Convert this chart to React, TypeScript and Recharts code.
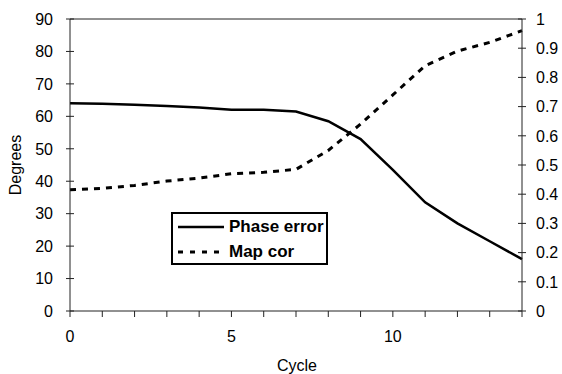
import React from 'react';
import { LineChart, Line, XAxis, YAxis, Legend, ReferenceLine } from 'recharts';

// values
const cycles = [0, 1, 2, 3, 4, 5, 6, 7, 8, 9, 10, 11, 12, 13, 14];
const phaseError = [64, 63.9, 63.6, 63.2, 62.7, 62, 62, 61.5, 58.5, 53, 43.5, 33.5, 27, 21.5, 16];
const mapCor = [0.415, 0.42, 0.43, 0.445, 0.455, 0.47, 0.475, 0.485, 0.55, 0.64, 0.74, 0.84, 0.89, 0.92, 0.96];
const degreeTicks = [0, 10, 20, 30, 40, 50, 60, 70, 80, 90];
const corTicks = [0, 0.1, 0.2, 0.3, 0.4, 0.5, 0.6, 0.7, 0.8, 0.9, 1];

const data = cycles.map((c, i) => ({ cycle: c, phase: phaseError[i], cor: mapCor[i] }));

const FONT = '"Liberation Sans", Arial, sans-serif';
const AXIS = '#222';

const YTick = ({ x, y, payload, side }: any) => {
    const label = side === 'left' ? String(payload.value) : String(Number(payload.value.toFixed(1)));
    return (
        <g>
            <line x1={x - 4} x2={x + 4} y1={y} y2={y} stroke={AXIS} strokeWidth={1} />
            <text
                x={side === 'left' ? x - 17 : x + 14}
                y={y}
                dy="0.36em"
                textAnchor={side === 'left' ? 'end' : 'start'}
                fontSize={16}
                fontFamily={FONT}
                fill="#000"
            >
                {label}
            </text>
        </g>
    );
};

const LegendBox = () => (
    <div
        style={{
            width: 157,
            height: 53,
            border: '2.5px solid #000',
            boxSizing: 'border-box',
            background: '#fff',
            position: 'relative',
            fontFamily: FONT,
            fontWeight: 'bold',
            fontSize: 17,
            color: '#000',
        }}
    >
        {[
            { name: 'Phase error', dash: undefined, top: 2 },
            { name: 'Map cor', dash: '5 7', top: 27 },
        ].map((row) => (
            <div key={row.name} style={{ position: 'absolute', left: 5, top: row.top, height: 22, display: 'flex', alignItems: 'center' }}>
                <svg width={46} height={6} style={{ display: 'block' }}>
                    <line x1={0} x2={46} y1={3} y2={3} stroke="#000" strokeWidth={row.dash ? 3 : 2.5} strokeDasharray={row.dash} />
                </svg>
                <span style={{ marginLeft: 5, lineHeight: '22px', whiteSpace: 'nowrap' }}>{row.name}</span>
            </div>
        ))}
    </div>
);

export default function App() {
    return (
        <div style={{ position: 'absolute', left: 0, top: 0, width: 562, height: 374, background: '#fff' }}>
            <LineChart width={562} height={374} data={data} margin={{ top: 19, right: 0, bottom: 0, left: 0 }}>
                <XAxis
                    dataKey="cycle"
                    type="number"
                    domain={[0, 14]}
                    ticks={cycles}
                    interval={0}
                    tickFormatter={(v) => (v % 5 === 0 ? String(v) : '')}
                    height={63}
                    tickSize={6}
                    tickMargin={14}
                    stroke={AXIS}
                    tick={{ fill: '#000', fontSize: 16, fontFamily: FONT }}
                    label={({ viewBox }: any) => (
                        <text x={viewBox.x + viewBox.width / 2 + 1} y={viewBox.y + 60} textAnchor="middle" fontSize={16} fontFamily={FONT} fill="#000">
                            Cycle
                        </text>
                    )}
                />
                <YAxis
                    yAxisId="left"
                    width={70}
                    domain={[0, 90]}
                    ticks={degreeTicks}
                    interval={0}
                    tickSize={0}
                    tickMargin={0}
                    tickLine={false}
                    stroke={AXIS}
                    tick={<YTick side="left" />}
                    label={({ viewBox }: any) => {
                        const lx = viewBox.x + 21;
                        const ly = viewBox.y + viewBox.height / 2;
                        return (
                            <text x={lx} y={ly} transform={`rotate(-90, ${lx}, ${ly})`} textAnchor="middle" fontSize={16} fontFamily={FONT} fill="#000">
                                Degrees
                            </text>
                        );
                    }}
                />
                <YAxis
                    yAxisId="right"
                    orientation="right"
                    width={40}
                    domain={[0, 1]}
                    ticks={corTicks}
                    interval={0}
                    tickSize={0}
                    tickMargin={0}
                    tickLine={false}
                    stroke={AXIS}
                    tick={<YTick side="right" />}
                />
                <ReferenceLine yAxisId="left" y={90} stroke={AXIS} strokeWidth={1} />
                <Legend
                    layout="horizontal"
                    verticalAlign="middle"
                    align="center"
                    content={<LegendBox />}
                    wrapperStyle={{ left: 171, top: 212, width: 157, height: 53 }}
                />
                <Line
                    yAxisId="left"
                    type="linear"
                    dataKey="phase"
                    name="Phase error"
                    stroke="#000"
                    strokeWidth={2.5}
                    dot={false}
                    isAnimationActive={false}
                />
                <Line
                    yAxisId="right"
                    type="linear"
                    dataKey="cor"
                    name="Map cor"
                    stroke="#000"
                    strokeWidth={3}
                    strokeDasharray="6 6"
                    dot={false}
                    isAnimationActive={false}
                />
            </LineChart>
        </div>
    );
}
